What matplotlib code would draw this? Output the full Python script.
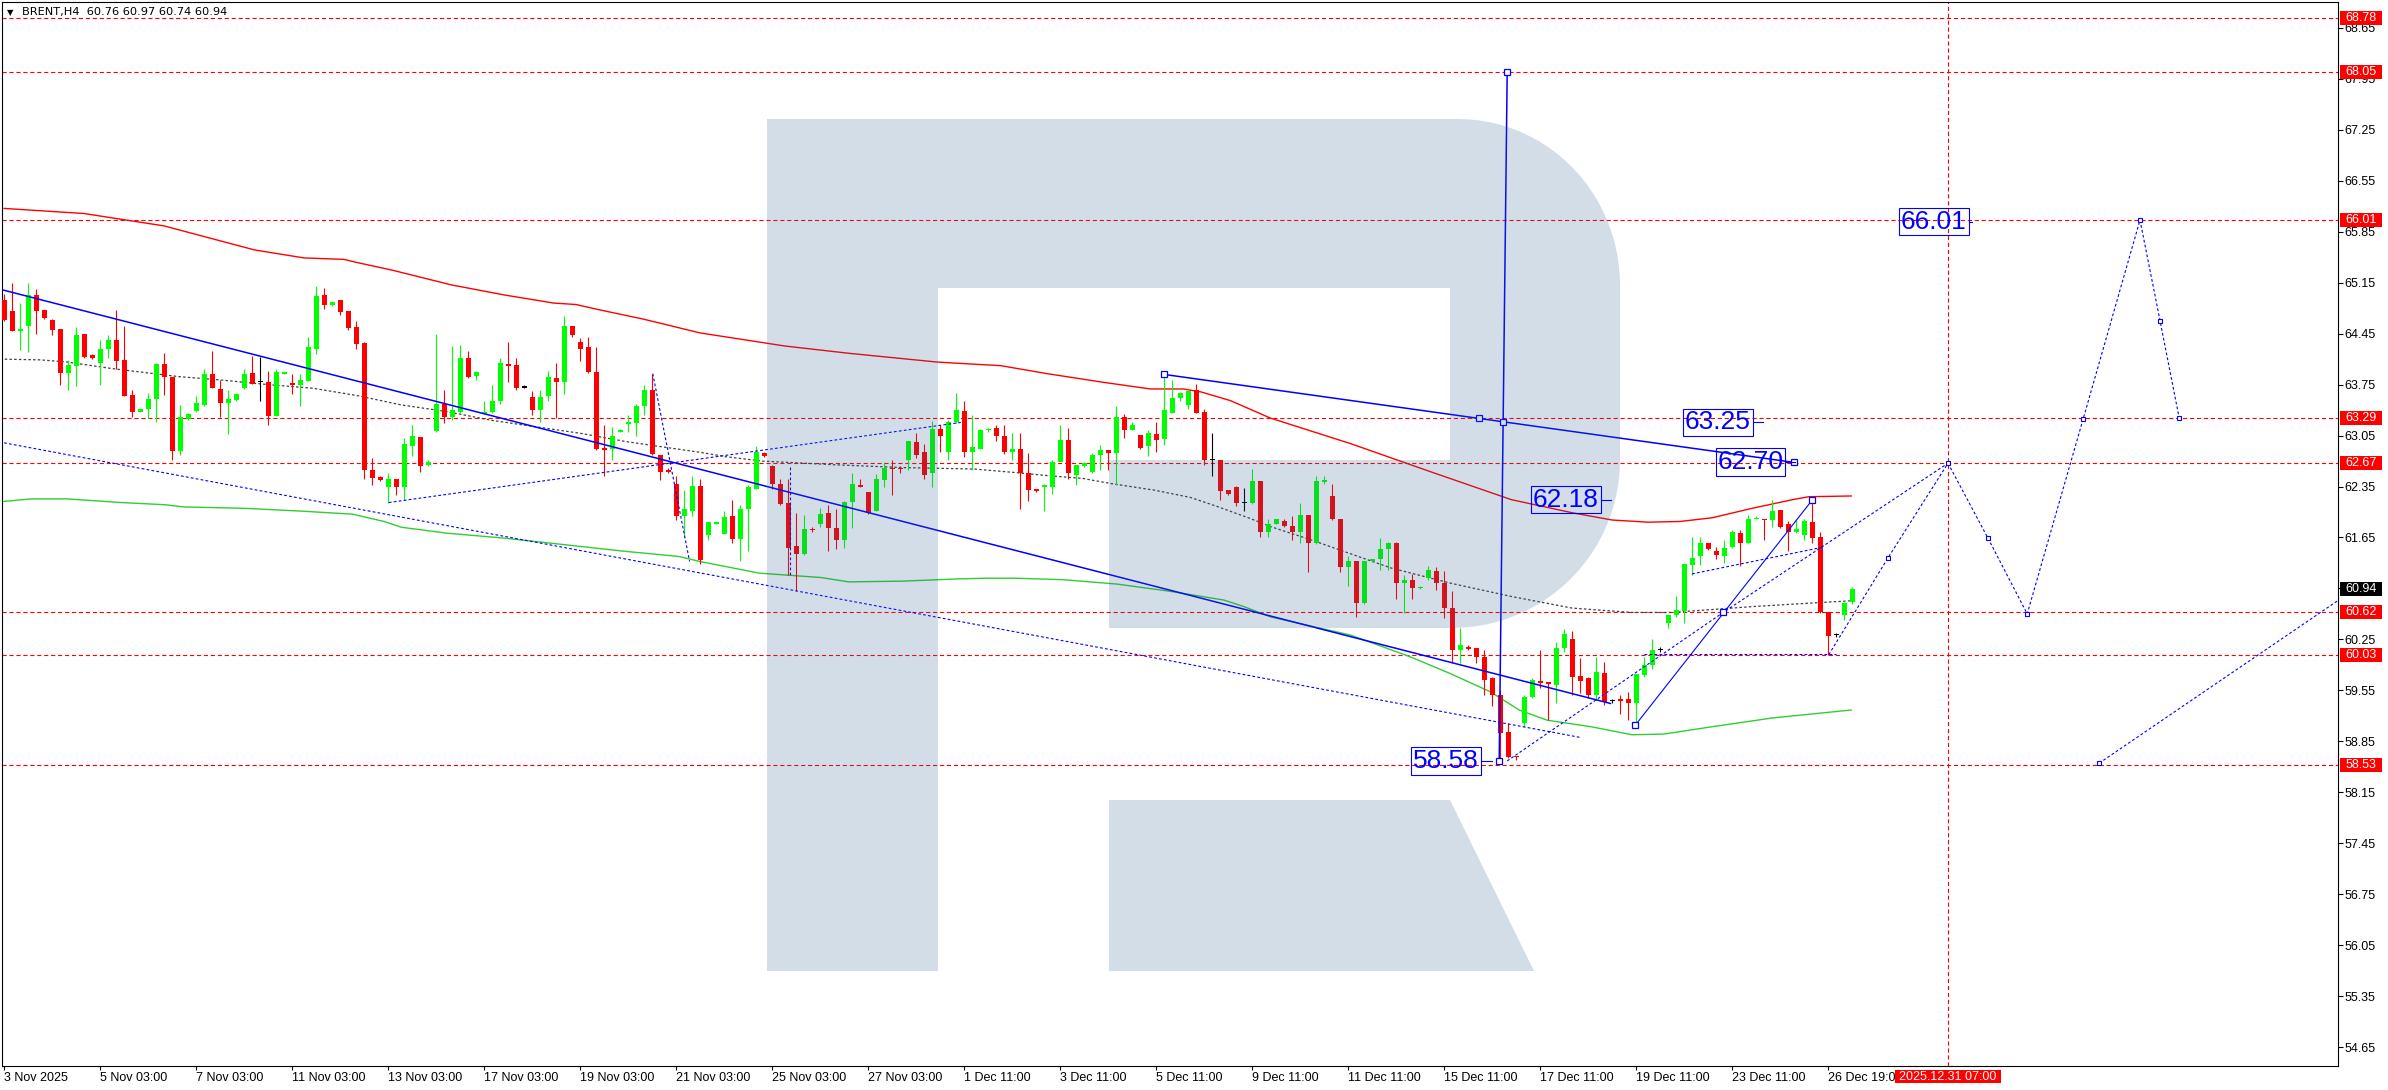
import numpy as np
import matplotlib
matplotlib.use("Agg")
import matplotlib.pyplot as plt
from matplotlib.patches import Polygon, Rectangle
from matplotlib.transforms import blended_transform_factory

plt.rcParams['font.family'] = ['Liberation Sans', 'DejaVu Sans']
plt.rcParams['lines.scale_dashes'] = False

# --- BRENT H4, candles (bar index 0 = 3 Nov 2025) ---
opens = [64.91, 64.76, 64.49, 64.56, 64.98, 64.78, 64.64, 64.51, 63.91, 64.00,
         64.45, 64.16, 64.05, 64.24, 64.36, 64.09, 63.61, 63.38, 63.42, 63.55,
         64.03, 63.86, 62.84, 63.28, 63.39, 63.47, 63.90, 63.69, 63.50, 63.54,
         63.71, 63.91, 63.78, 63.79, 63.32, 63.90, 63.77, 63.75, 63.80, 64.24,
         64.98, 64.84, 64.91, 64.76, 64.54, 64.32, 62.58, 62.48, 62.34, 62.45,
         62.34, 62.91, 63.03, 62.64, 63.11, 63.49, 63.31, 63.38, 64.11, 63.87,
         63.35, 63.38, 63.52, 64.03, 64.02, 63.71, 63.58, 63.40, 63.59, 63.84,
         63.78, 64.56, 64.34, 64.27, 63.92, 62.88, 62.87, 63.10, 63.21, 63.22,
         63.45, 63.68, 62.78, 62.58, 62.39, 61.94, 62.02, 62.36, 61.68, 61.84,
         61.70, 61.94, 61.63, 62.04, 62.32, 62.81, 62.63, 62.39, 62.12, 61.53,
         61.42, 61.77, 61.84, 61.99, 61.78, 61.62, 62.14, 62.37, 62.28, 62.01,
         62.44, 62.60, 62.60, 62.71, 62.96, 62.82, 62.53, 63.14, 62.83, 63.23,
         63.39, 62.82, 62.87, 63.12, 63.16, 63.05, 62.82, 62.87, 62.54, 62.31,
         62.35, 62.35, 62.68, 62.99, 62.51, 62.63, 62.55, 62.78, 62.85, 62.81,
         63.30, 63.12, 63.06, 62.90, 63.07, 63.00, 63.36, 63.56, 63.47, 63.68,
         63.37, 62.72, 62.72, 62.30, 62.34, 62.13, 62.12, 62.43, 61.73, 61.84,
         61.88, 61.81, 61.73, 61.96, 61.57, 62.41, 62.22, 61.90, 61.25, 61.33,
         60.75, 61.32, 61.36, 61.49, 61.57, 61.03, 61.07, 60.95, 61.09, 61.19,
         61.02, 60.68, 60.11, 60.15, 60.13, 60.01, 59.72, 59.48, 58.98, 58.65,
         59.10, 59.46, 59.68, 59.66, 59.63, 60.13, 60.25, 59.75, 59.72, 59.48,
         59.79, 59.41, 59.43, 59.43, 59.37, 59.76, 59.90, 60.11, 60.48, 60.58,
         60.64, 61.27, 61.39, 61.58, 61.46, 61.40, 61.52, 61.71, 61.58, 61.90,
         61.91, 61.89, 62.03, 61.84, 61.72, 61.68, 61.86, 61.65, 60.62, 60.31,
         60.58, 60.76]
highs = [65.00, 65.14, 64.87, 65.14, 65.06, 64.78, 64.65, 64.51, 64.09, 64.54,
         64.45, 64.17, 64.36, 64.43, 64.78, 64.55, 63.68, 63.42, 63.63, 64.05,
         64.18, 63.86, 63.47, 63.36, 63.59, 63.97, 64.21, 63.81, 63.68, 63.62,
         63.97, 64.14, 64.13, 63.94, 63.96, 63.92, 63.90, 63.90, 64.40, 65.11,
         65.08, 64.89, 64.91, 64.76, 64.63, 64.33, 62.74, 62.49, 62.53, 62.45,
         63.01, 63.20, 63.03, 62.72, 64.45, 63.68, 64.28, 64.30, 64.21, 63.93,
         63.52, 63.75, 64.12, 64.33, 64.11, 63.74, 63.66, 63.68, 63.93, 64.04,
         64.69, 64.56, 64.39, 64.40, 64.26, 63.20, 63.17, 63.14, 63.33, 63.49,
         63.75, 63.90, 62.78, 62.60, 62.49, 62.30, 62.49, 62.45, 61.86, 61.86,
         62.01, 62.16, 62.10, 62.37, 62.91, 62.82, 62.65, 62.46, 62.46, 61.99,
         61.96, 61.79, 62.05, 62.10, 62.04, 62.15, 62.54, 62.45, 62.28, 62.52,
         62.68, 62.72, 62.63, 62.98, 63.08, 62.94, 63.25, 63.20, 63.26, 63.63,
         63.52, 63.33, 63.14, 63.16, 63.19, 63.19, 63.08, 63.08, 62.81, 62.31,
         62.38, 62.72, 63.19, 63.16, 62.65, 62.68, 62.81, 62.92, 62.85, 63.46,
         63.34, 63.23, 63.06, 63.13, 63.23, 63.89, 63.81, 63.65, 63.66, 63.76,
         63.42, 63.08, 62.72, 62.30, 62.36, 62.33, 62.59, 62.43, 61.91, 61.90,
         61.91, 61.94, 62.12, 61.96, 62.49, 62.49, 62.38, 61.90, 61.39, 61.33,
         61.33, 61.35, 61.64, 61.59, 61.59, 61.13, 61.15, 60.98, 61.26, 61.24,
         61.19, 60.91, 60.41, 60.17, 60.13, 60.10, 59.74, 59.55, 59.10, 58.65,
         59.48, 59.72, 60.11, 59.67, 60.22, 60.39, 60.36, 59.99, 59.74, 60.01,
         59.94, 59.43, 59.49, 59.53, 59.78, 60.01, 60.25, 60.14, 60.59, 60.84,
         61.29, 61.66, 61.66, 61.58, 61.52, 61.62, 61.75, 61.75, 61.96, 61.94,
         61.91, 62.16, 62.03, 61.88, 61.91, 61.91, 62.16, 61.73, 60.63, 60.34,
         60.77, 60.97]
lows = [64.62, 64.48, 64.23, 64.20, 64.44, 64.65, 64.43, 63.75, 63.68, 63.73,
        64.11, 64.10, 63.75, 64.11, 63.97, 63.59, 63.30, 63.37, 63.29, 63.23,
        63.61, 62.71, 62.78, 63.27, 63.38, 63.45, 63.70, 63.31, 63.07, 63.53,
        63.69, 63.76, 63.53, 63.19, 63.32, 63.90, 63.62, 63.45, 63.80, 64.17,
        64.79, 64.83, 64.70, 64.50, 64.24, 62.46, 62.37, 62.42, 62.13, 62.23,
        62.17, 62.77, 62.55, 62.63, 63.10, 63.22, 63.26, 63.36, 63.84, 63.81,
        63.35, 63.36, 63.49, 63.79, 63.68, 63.70, 63.33, 63.24, 63.52, 63.29,
        63.62, 64.40, 64.08, 63.91, 62.85, 62.49, 62.71, 63.10, 63.10, 63.04,
        63.33, 62.78, 62.44, 62.53, 61.89, 61.66, 61.95, 61.29, 61.61, 61.83,
        61.70, 61.57, 61.32, 61.46, 62.31, 62.75, 62.31, 62.10, 61.13, 60.92,
        61.41, 61.72, 61.80, 61.47, 61.49, 61.51, 61.78, 62.35, 61.97, 62.01,
        62.35, 62.24, 62.53, 62.58, 62.74, 62.45, 62.35, 62.82, 62.71, 63.22,
        62.75, 62.58, 62.86, 63.10, 62.97, 62.79, 62.71, 62.04, 62.15, 62.27,
        62.01, 62.25, 62.68, 62.45, 62.37, 62.62, 62.53, 62.58, 62.57, 62.37,
        63.01, 63.12, 62.86, 62.77, 62.82, 62.92, 63.36, 63.52, 63.41, 63.36,
        62.65, 62.49, 62.16, 62.23, 62.08, 62.02, 62.11, 61.65, 61.66, 61.83,
        61.80, 61.62, 61.57, 61.17, 61.56, 62.39, 61.89, 61.17, 60.99, 60.56,
        60.74, 61.31, 61.20, 61.20, 60.81, 60.61, 60.80, 60.94, 61.07, 60.93,
        60.54, 59.92, 59.93, 60.10, 59.92, 59.48, 59.33, 58.58, 58.62, 58.59,
        59.05, 59.44, 59.58, 59.14, 59.37, 60.08, 59.49, 59.51, 59.44, 59.42,
        59.35, 59.38, 59.23, 59.14, 59.07, 59.73, 59.84, 60.08, 60.40, 60.56,
        60.47, 61.13, 61.27, 61.48, 61.35, 61.30, 61.51, 61.26, 61.57, 61.90,
        61.62, 61.80, 61.78, 61.47, 61.71, 61.62, 61.57, 60.61, 60.04, 60.28,
        60.52, 60.74]
closes = [64.64, 64.49, 64.52, 64.98, 64.76, 64.67, 64.50, 63.91, 64.02, 64.43,
          64.13, 64.11, 64.24, 64.36, 64.08, 63.59, 63.38, 63.41, 63.55, 64.03,
          63.85, 62.84, 63.31, 63.35, 63.50, 63.90, 63.71, 63.50, 63.55, 63.62,
          63.90, 63.76, 63.78, 63.32, 63.92, 63.92, 63.74, 63.81, 64.26, 64.97,
          64.85, 64.88, 64.75, 64.53, 64.31, 62.57, 62.47, 62.44, 62.45, 62.34,
          62.93, 63.04, 62.63, 62.68, 63.48, 63.30, 63.40, 64.11, 63.85, 63.92,
          63.38, 63.53, 64.04, 64.01, 63.70, 63.71, 63.40, 63.58, 63.86, 63.79,
          64.56, 64.43, 64.24, 63.92, 62.87, 62.85, 63.04, 63.13, 63.24, 63.45,
          63.68, 62.79, 62.55, 62.55, 61.94, 62.04, 62.36, 61.34, 61.86, 61.86,
          61.93, 61.63, 62.04, 62.35, 62.82, 62.77, 62.38, 62.11, 61.51, 61.42,
          61.77, 61.75, 61.97, 61.78, 61.62, 62.14, 62.38, 62.35, 61.99, 62.45,
          62.60, 62.59, 62.59, 62.98, 62.78, 62.51, 63.14, 63.05, 63.24, 63.40,
          62.82, 62.89, 63.13, 63.14, 63.05, 62.82, 62.87, 62.53, 62.30, 62.29,
          62.36, 62.68, 62.99, 62.53, 62.65, 62.67, 62.78, 62.85, 62.81, 63.30,
          63.12, 63.19, 62.88, 63.08, 62.99, 63.40, 63.56, 63.63, 63.66, 63.36,
          62.71, 62.72, 62.29, 62.25, 62.13, 62.13, 62.43, 61.73, 61.83, 61.90,
          61.81, 61.72, 61.96, 61.57, 62.42, 62.44, 61.90, 61.25, 61.32, 60.75,
          61.32, 61.35, 61.49, 61.57, 61.03, 61.07, 60.95, 60.97, 61.20, 61.02,
          60.68, 60.11, 60.17, 60.12, 60.01, 59.69, 59.48, 58.96, 58.63, 58.63,
          59.46, 59.69, 59.65, 59.64, 60.13, 60.33, 59.74, 59.68, 59.48, 59.80,
          59.39, 59.41, 59.41, 59.38, 59.78, 59.90, 60.11, 60.11, 60.59, 60.65,
          61.28, 61.37, 61.58, 61.49, 61.41, 61.51, 61.73, 61.58, 61.91, 61.92,
          61.89, 62.01, 61.80, 61.72, 61.77, 61.87, 61.64, 60.62, 60.30, 60.31,
          60.75, 60.94]

# --- moving averages (bar index, price) ---
red_ma_x = [0, 10, 20, 31.3, 37.5, 42.5, 44, 48.6, 55.9, 62.6, 68.7, 71.5, 74.3, 79.9, 87,
            97.6, 105.6, 116.6, 119.7, 124.6, 130.4, 137.5, 143.3, 147.4, 149.6, 153.3,
            158.3, 168.3, 178.4, 188.4, 196, 201, 205.5, 209.5, 213.5, 218.5, 223.6, 225.6, 230.9]
red_ma_y = [66.17, 66.10, 65.93, 65.60, 65.49, 65.47, 65.43, 65.32, 65.12, 64.98, 64.87, 64.85,
            64.78, 64.65, 64.46, 64.28, 64.18, 64.06, 64.04, 64.01, 63.90, 63.78, 63.69, 63.69,
            63.65, 63.53, 63.29, 62.94, 62.55, 62.17, 61.99, 61.89, 61.86, 61.87, 61.92, 62.05,
            62.17, 62.21, 62.22]
green_ma_x = [-0.5, 3.4, 7.9, 14.6, 20.1, 22.4, 30.2, 37.5, 43.6, 47.5, 49.7, 55.3, 62.6, 69.3,
              77.6, 84.3, 87, 94.4, 102.1, 105.6, 112.3, 119, 122.6, 126.6, 132.4, 139.1, 145.8,
              152.5, 155, 158.3, 168.3, 175.8, 180.8, 185.8, 189.4, 192.9, 198.4, 203.5, 207.5,
              213.5, 221, 230.9]
green_ma_y = [62.14, 62.18, 62.18, 62.13, 62.10, 62.07, 62.05, 62.01, 61.97, 61.87, 61.79, 61.71,
              61.64, 61.56, 61.46, 61.39, 61.32, 61.16, 61.10, 61.04, 61.05, 61.08, 61.09, 61.09,
              61.07, 61.01, 60.91, 60.79, 60.70, 60.56, 60.31, 60.01, 59.78, 59.53, 59.28, 59.14,
              59.05, 58.94, 58.95, 59.05, 59.17, 59.28]
gray_ma_x = [-0.5, 4.5, 7.9, 13.5, 21.8, 27.4, 33, 38.6, 44.1, 49.7, 55.3, 60.9, 66.5, 72.1, 77.6,
             83.2, 87, 90.2, 94.7, 103.6, 112.4, 121.3, 126.6, 130.4, 134.9, 138.4, 143.8, 148.3,
             151.8, 155.8, 158.3, 163.3, 173.4, 180.9, 188.4, 196, 203.5, 208.5, 213.5, 218.5,
             226, 230.9]
gray_ma_y = [64.10, 64.09, 64.06, 63.97, 63.86, 63.81, 63.75, 63.70, 63.60, 63.47, 63.38, 63.26,
             63.17, 63.08, 62.97, 62.88, 62.82, 62.76, 62.70, 62.65, 62.61, 62.59, 62.54, 62.50,
             62.46, 62.39, 62.30, 62.20, 62.07, 61.91, 61.80, 61.62, 61.23, 61.02, 60.84, 60.68,
             60.62, 60.62, 60.66, 60.70, 60.75, 60.78]

# --- analyst drawings ---
levels = [68.78, 68.05, 66.01, 63.29, 62.67, 60.62, 60.03, 58.53]
target_bar = 243  # 2025.12.31 07:00

channel_top_x, channel_top_y = [-0.5, 200.8], [65.06, 59.37]
channel_low_x, channel_low_y = [0, 197.2], [62.95, 58.90]
rise_dash_x, rise_dash_y = [48.1, 119.6], [62.13, 63.23]
drop_dash_x, drop_dash_y = [81.1, 85.7], [63.90, 61.32]
spike_dash_x, spike_dash_y = [98.3, 98.3], [62.62, 61.13]
peak_line_x, peak_line_y = [145, 223.8], [63.89, 62.68]
peak_marks_x, peak_marks_y = [145, 184.4, 187.4, 223.8], [63.89, 63.29, 63.24, 62.68]
vert_line_x, vert_line_y = [186.9, 187.9], [58.58, 68.05]
wave_line_x, wave_line_y = [203.9, 226], [59.07, 62.16]
low_dash_x, low_dash_y = [187.9, 214.9, 243], [58.58, 60.62, 62.67]
dip_dash_x, dip_dash_y = [228.1, 235.5, 243], [60.04, 61.37, 62.67]
mid_dash_x, mid_dash_y = [211, 227.5], [61.15, 61.52]
flat_dash_x, flat_dash_y = [205, 229], [60.05, 60.05]
forecast_x = [243, 248, 252.9, 259.9, 267, 269.5, 271.9]
forecast_y = [62.67, 61.64, 60.60, 63.28, 66.01, 64.63, 63.29]
support_x, support_y = [261.9, 292.5], [58.55, 60.84]

tag_text = ['63.25', '62.70', '62.18', '58.58', '66.01']
tag_x = [214.25, 218.3, 195.25, 180.25, 241.25]
tag_y = [63.23, 62.69, 62.17, 58.58, 65.99]
tag_lead_x = [219.9, 223.9, 200.9, 186.0, 246.0]

date_pos = [0, 12, 24, 36, 48, 60, 72, 84, 96, 108, 120, 132, 144, 156, 168, 180, 192, 204, 216, 228]
date_labels = ['3 Nov 2025', '5 Nov 03:00', '7 Nov 03:00', '11 Nov 03:00', '13 Nov 03:00',
               '17 Nov 03:00', '19 Nov 03:00', '21 Nov 03:00', '25 Nov 03:00', '27 Nov 03:00',
               '1 Dec 11:00', '3 Dec 11:00', '5 Dec 11:00', '9 Dec 11:00', '11 Dec 11:00',
               '15 Dec 11:00', '17 Dec 11:00', '19 Dec 11:00', '23 Dec 11:00', '26 Dec 19:00']
price_ticks = [54.65, 55.35, 56.05, 56.75, 57.45, 58.15, 58.85, 59.55, 60.25, 60.95, 61.65,
               62.35, 63.05, 63.75, 64.45, 65.15, 65.85, 66.55, 67.25, 67.95, 68.65]
last_price = 60.94

W_PX, H_PX = 2388, 1090
BLUE = '#0000ff'

fig = plt.figure(figsize=(W_PX / 100, H_PX / 100), dpi=100)
ax = fig.add_axes([2 / W_PX, 24 / H_PX, 2336 / W_PX, 1064 / H_PX])
ax.set_xlim(-0.25, 291.75)
ax.set_ylim(54.39, 54.39 + 1064 / 72.8)

# níveis / linhas horizontais
for lv in levels:
    ax.axhline(lv, color='#ff0000', lw=0.8, dashes=(3, 2), zorder=1.5)
ax.axvline(target_bar, color='#ff0000', lw=0.8, dashes=(3, 2), zorder=1.5)

# médias móveis
ax.plot(red_ma_x, red_ma_y, color='#ff0000', lw=1.0, zorder=2)
ax.plot(green_ma_x, green_ma_y, color='#32cd32', lw=1.0, zorder=2)
ax.plot(gray_ma_x, gray_ma_y, color='#404040', lw=0.9, dashes=(1.8, 1.6), zorder=2)

# velas
o = np.array(opens); h = np.array(highs); l = np.array(lows); c = np.array(closes)
idx = np.arange(len(o))
cols = np.where(c > o, '#00ff00', np.where(c < o, '#ff0000', '#000000'))
ax.vlines(idx, l, h, colors=cols, lw=0.8, zorder=3)
ax.bar(idx, np.maximum(np.abs(c - o), 0.014), bottom=np.minimum(o, c), width=0.625,
       color=cols, lw=0, zorder=3.1)

# linhas de tendência e marcações
solid = dict(color=BLUE, lw=1.1, zorder=3.5)
dashed = dict(color=BLUE, lw=0.8, dashes=(2, 1.6), zorder=3.5)
square = dict(ls='none', marker='s', ms=4, mfc='white', mec=BLUE, mew=0.9, zorder=3.6)
small_sq = dict(ls='none', marker='s', ms=3, mfc='white', mec=BLUE, mew=0.8, zorder=3.6)

ax.plot(channel_top_x, channel_top_y, **solid)
ax.plot(channel_low_x, channel_low_y, **dashed)
ax.plot(rise_dash_x, rise_dash_y, **dashed)
ax.plot(drop_dash_x, drop_dash_y, **dashed)
ax.plot(spike_dash_x, spike_dash_y, **dashed)
ax.plot(peak_line_x, peak_line_y, **solid)
ax.plot(peak_marks_x, peak_marks_y, **square)
ax.plot(vert_line_x, vert_line_y, **solid)
ax.plot(vert_line_x, vert_line_y, **square)
ax.plot(wave_line_x, wave_line_y, color=BLUE, lw=0.8, zorder=3.5)
ax.plot(wave_line_x, wave_line_y, **square)
ax.plot(low_dash_x, low_dash_y, **dashed)
ax.plot(low_dash_x[1:2], low_dash_y[1:2], **square)
ax.plot(dip_dash_x, dip_dash_y, **dashed)
ax.plot(dip_dash_x[1:2], dip_dash_y[1:2], **small_sq)
ax.plot(mid_dash_x, mid_dash_y, **dashed)
ax.plot(flat_dash_x, flat_dash_y, **dashed)
ax.plot(forecast_x, forecast_y, **dashed)
ax.plot(forecast_x, forecast_y, **small_sq)
ax.plot(support_x, support_y, **dashed)
ax.plot(support_x[:1], support_y[:1], **small_sq)

# etiquetas de preço azuis
for txt, x, y, lx in zip(tag_text, tag_x, tag_y, tag_lead_x):
    ax.plot([x + 4.4, lx], [y, y], color=BLUE, lw=0.8, zorder=6)
    ax.text(x, y, txt, color=BLUE, fontsize=19, ha='center', va='center', zorder=7,
            bbox=dict(boxstyle='square,pad=0.07', fc='none', ec=BLUE, lw=0.8))

# marca d'água "R" (sobreposição translúcida)
def to_inches(pts):
    return [(x / 100.0, (H_PX - y) / 100.0) for x, y in pts]

a1 = np.linspace(np.pi / 2, 0, 25)
a2 = np.linspace(0, -np.pi / 2, 25)
top_arc = [(1458 + 162 * np.cos(a), 285 - 166 * np.sin(a)) for a in a1]
bot_arc = [(1452 + 168 * np.cos(a), 460 - 168 * np.sin(a)) for a in a2]
r_body = [(767, 119)] + top_arc + bot_arc + [(1109, 628), (1109, 460), (1450, 460),
                                             (1450, 288), (938, 288), (938, 971), (767, 971)]
r_leg = [(1109, 800), (1450, 800), (1534, 971), (1109, 971)]
for shape in (r_body, r_leg):
    ax.add_patch(Polygon(to_inches(shape), closed=True, transform=fig.dpi_scale_trans,
                         facecolor='#306095', edgecolor='none', alpha=0.21, zorder=4.5))

# eixos
for sp in ax.spines.values():
    sp.set_color('black')
    sp.set_linewidth(0.8)
ax.yaxis.tick_right()
ax.set_yticks(price_ticks, [f'{v:.2f}' for v in price_ticks])
ax.tick_params(axis='y', direction='out', length=3.5, width=0.8, pad=1, labelsize=9)
ax.set_xticks(date_pos, date_labels)
for lbl in ax.get_xticklabels():
    lbl.set_horizontalalignment('left')
ax.tick_params(axis='x', direction='out', length=3, width=0.8, pad=1, labelsize=9)

# etiquetas no eixo direito
trans_r = blended_transform_factory(ax.transAxes, ax.transData)
bw, bh = 42 / 2336, 14 / 72.8
tags = [(lv, '#ff0000') for lv in levels] + [(last_price, '#000000')]
for p, col in tags:
    ax.add_patch(Rectangle((1 + 2 / 2336, p - bh / 2), bw, bh, transform=trans_r,
                           facecolor=col, edgecolor='none', clip_on=False, zorder=8))
    ax.text(1 + 2 / 2336 + bw / 2, p, f'{p:.2f}', transform=trans_r, color='white',
            fontsize=9, ha='center', va='center', clip_on=False, zorder=9)

# etiqueta da data alvo
trans_b = blended_transform_factory(ax.transData, ax.transAxes)
ax.add_patch(Rectangle((target_bar - 53 / 8, -17 / 1064), 106 / 8, 13 / 1064, transform=trans_b,
                       facecolor='#ff0000', edgecolor='none', clip_on=False, zorder=8))
ax.text(target_bar, -10.5 / 1064, '2025.12.31 07:00', transform=trans_b, color='white',
        fontsize=9, ha='center', va='center', clip_on=False, zorder=9)

# cabeçalho
fig.text(7 / W_PX, 1 - 12.5 / H_PX, '\u25bc', fontsize=6, ha='left', va='center',
         family='DejaVu Sans')
fig.text(22 / W_PX, 1 - 12.5 / H_PX,
         f'BRENT,H4  {opens[-1]:.2f} {highs[-1]:.2f} {lows[-1]:.2f} {closes[-1]:.2f}',
         fontsize=8.2, ha='left', va='center', family='DejaVu Sans')

fig.savefig('out.png', dpi=100)
